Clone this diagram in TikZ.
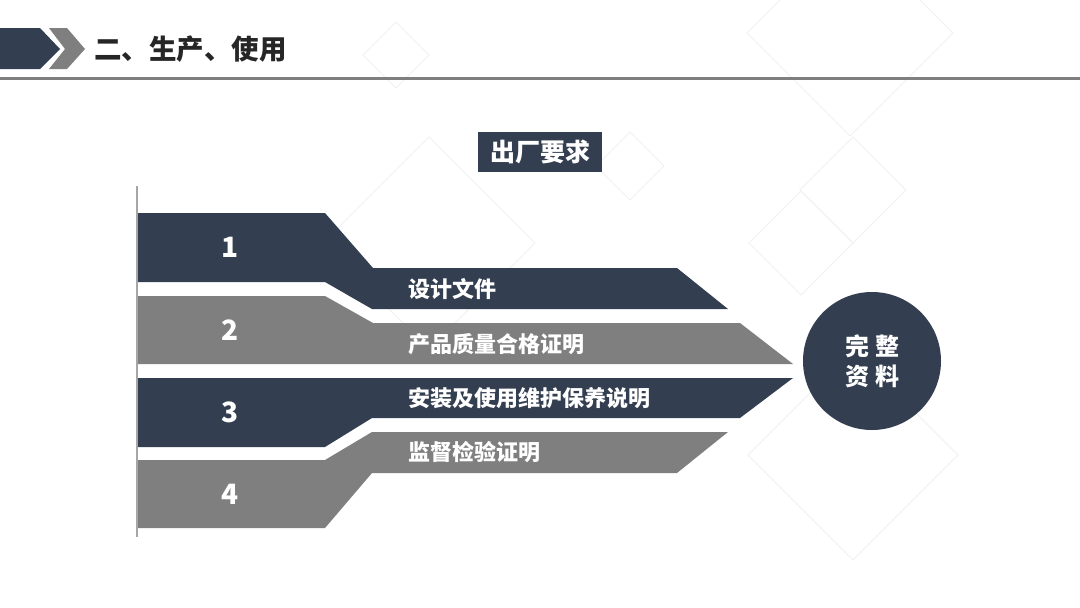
\documentclass[tikz,border=0pt]{standalone}
\usepackage{fontspec}
\setmainfont{Noto Sans CJK SC}
\usetikzlibrary{positioning}
\definecolor{navy}{HTML}{333F50}
\definecolor{ash}{HTML}{7F7F7F}
\definecolor{rule}{HTML}{A6A6A6}
\definecolor{faint}{HTML}{F1F1F1}

\begin{document}
\begin{tikzpicture}[
      x=1pt, y=-1pt, % 按像素坐标作图，y 轴向下
      every node/.style={inner sep=0pt, text=white},
      num/.style={font=\bfseries\fontsize{28}{28}\selectfont},
      itemlabel/.style={anchor=west, font=\bfseries\fontsize{22}{22}\selectfont},
      bgline/.style={draw=faint, line width=0.8pt}
    ]
\useasboundingbox (0,0) rectangle (1080,608);
\fill[white] (0,0) rectangle (1080,608);

% 背景淡色菱形
\foreach \cx/\cy/\r in {396/55/33, 850/33/103, 630/166/34, 429/243/106,
                         853/190/53, 801/243/52, 853/455/105}
  \draw[bgline] (\cx-\r,\cy) -- (\cx,\cy-\r) -- (\cx+\r,\cy) -- (\cx,\cy+\r) -- cycle;

% 标题栏
\fill[navy] (0,28) -- (40,28) -- (60,49) -- (40,69) -- (0,69) -- cycle;
\fill[ash] (49,28) -- (67,28) -- (85,49) -- (67,69) -- (49,69) -- (65,49) -- cycle;
\node[anchor=west, text=black!85, font=\bfseries\fontsize{27.5}{27.5}\selectfont] (title) at (94,49) {二、生产、使用};
\draw[ash, line width=3pt] (0,78) -- (1080,78);

\node[fill=navy, minimum width=124pt, minimum height=40pt, font=\bfseries\fontsize{25}{25}\selectfont] (req) at (540,152) {出厂要求};

% 左侧竖线
\coordinate (axtop) at (137,186);
\coordinate (axbot) at (137,537);
\draw[rule, line width=1.5pt] (axtop) -- (axbot);

% 四条色带
\fill[navy] (138,213) -- (325,213) -- (373,268) -- (677,268) -- (728,309)
   -- (372,309) -- (325,282) -- (138,282) -- cycle;
\fill[ash] (138,296) -- (325,296) -- (373,323) -- (740,323) -- (793,364)
   -- (138,364) -- cycle;
\fill[navy] (138,378) -- (793,378) -- (740,418) -- (372,418) -- (325,447)
   -- (138,447) -- cycle;
\fill[ash] (138,460) -- (325,460) -- (372,432) -- (728,432) -- (677,473)
   -- (372,473) -- (325,528) -- (138,528) -- cycle;

\node[num] (n1) at (230,247) {1};
\node[num] (n2) at (230,330) {2};
\node[num] (n3) at (230,412) {3};
\node[num] (n4) at (230,494) {4};

\node[itemlabel] (l1) at (408,289) {设计文件};
\node[itemlabel] (l2) at (408,344) {产品质量合格证明};
\node[itemlabel] (l3) at (408,398) {安装及使用维护保养说明};
\node[itemlabel] (l4) at (408,452) {监督检验证明};

\node[circle, fill=navy, minimum size=138pt, align=center,
      font=\bfseries\fontsize{24}{30}\selectfont] (whole) at (872,361) {完\hspace{6pt}整\\资\hspace{6pt}料};
\end{tikzpicture}
\end{document}
